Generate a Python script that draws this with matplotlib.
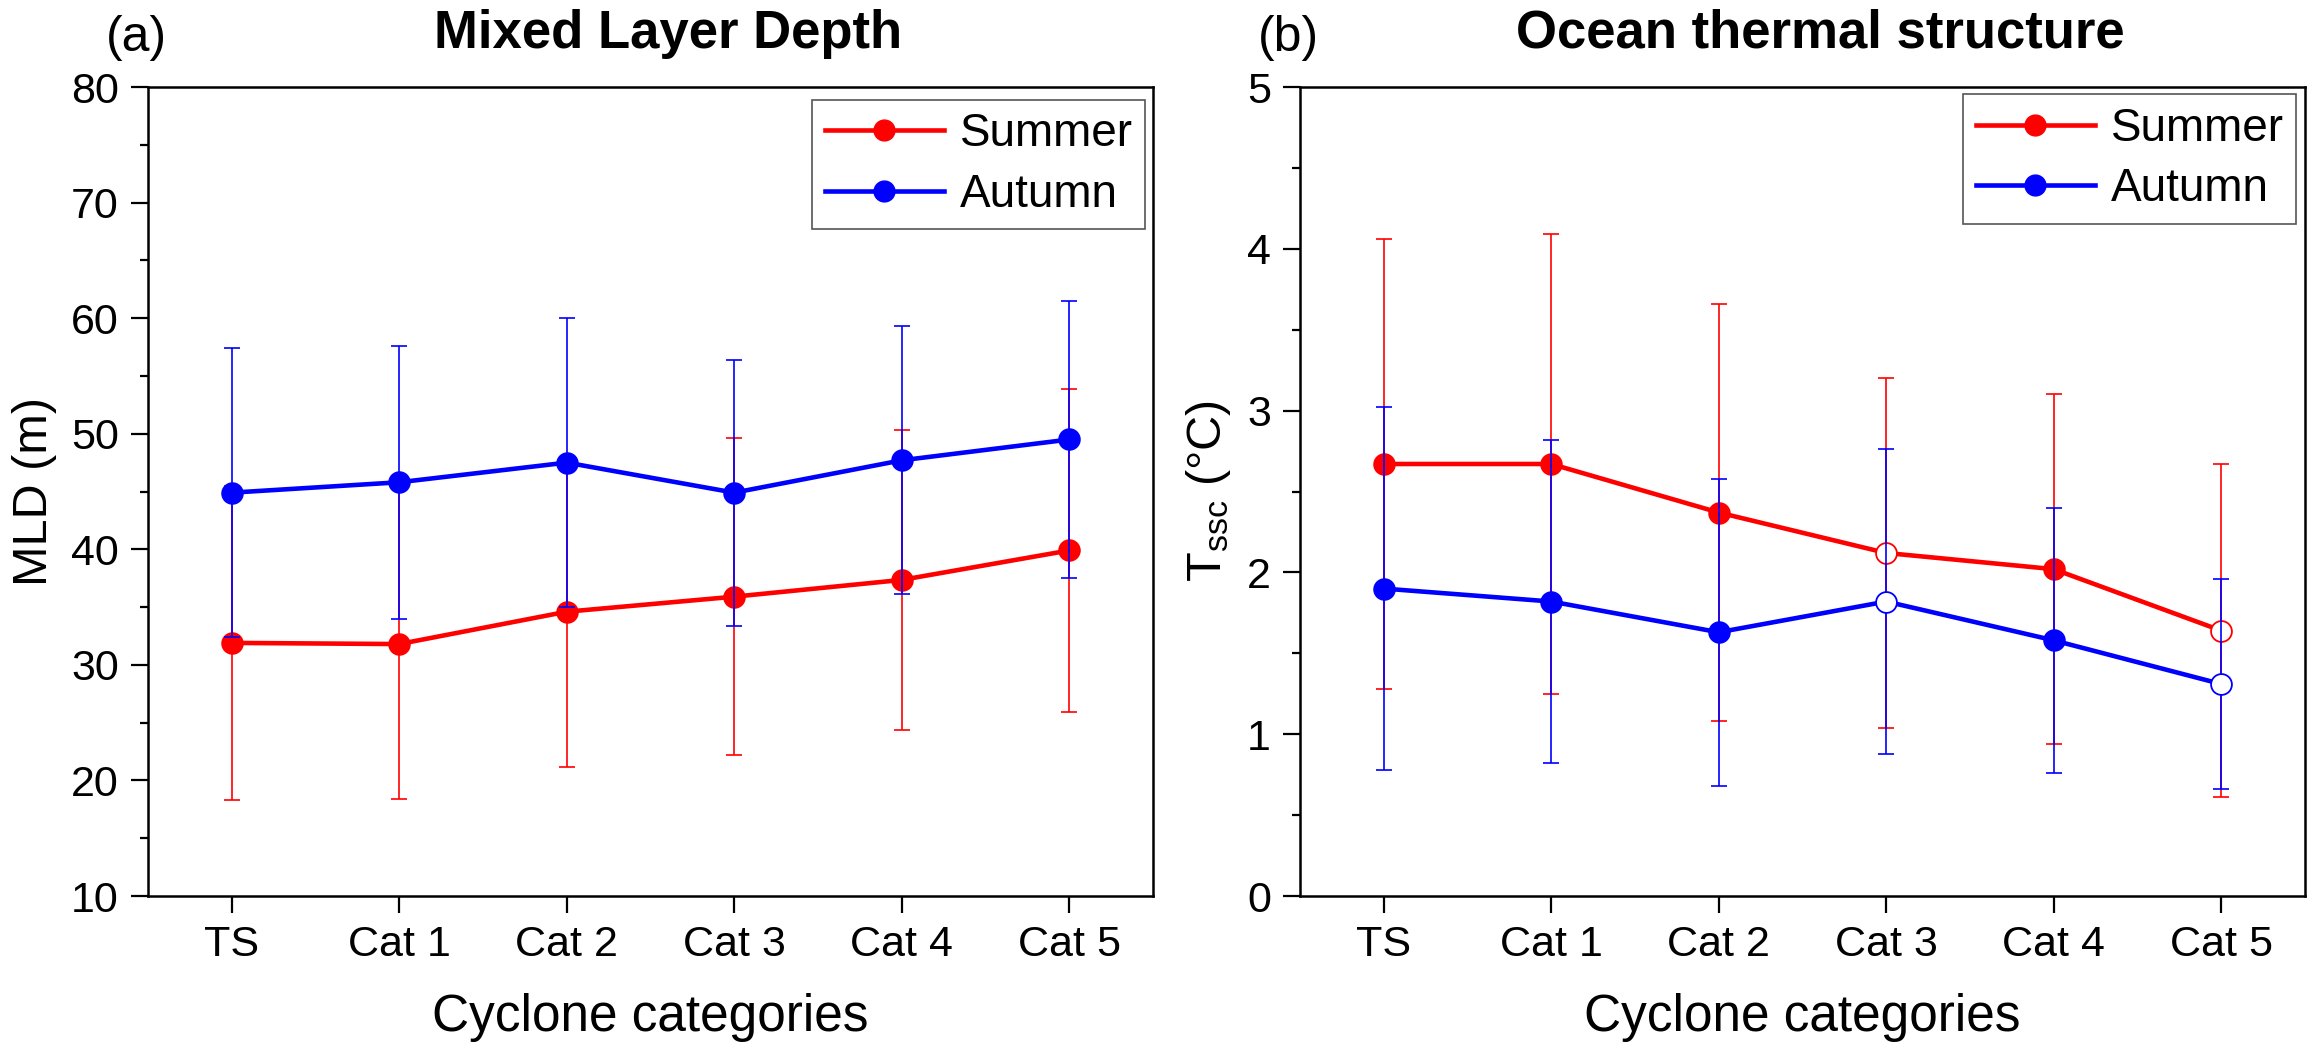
import matplotlib
matplotlib.use('Agg')
import matplotlib.pyplot as plt
from matplotlib.lines import Line2D
from matplotlib.ticker import MultipleLocator
import numpy as np

# ---------------- data ----------------
categories = ['TS', 'Cat 1', 'Cat 2', 'Cat 3', 'Cat 4', 'Cat 5']

mld_summer = [31.9, 31.8, 34.6, 35.9, 37.35, 39.9]
mld_summer_err = [13.6, 13.4, 13.4, 13.7, 13.0, 14.0]
mld_autumn = [44.9, 45.8, 47.5, 44.9, 47.7, 49.5]
mld_autumn_err = [12.5, 11.8, 12.5, 11.5, 11.6, 12.0]
mld_summer_open = [False, False, False, False, False, False]
mld_autumn_open = [False, False, False, False, False, False]

t_summer = [2.67, 2.67, 2.37, 2.12, 2.02, 1.64]
t_summer_err = [1.39, 1.42, 1.29, 1.08, 1.08, 1.03]
t_autumn = [1.90, 1.82, 1.63, 1.82, 1.58, 1.31]
t_autumn_err = [1.12, 1.00, 0.95, 0.94, 0.82, 0.65]
t_summer_open = [False, False, False, True, False, True]
t_autumn_open = [False, False, False, True, False, True]

series_labels = ['Summer', 'Autumn']
panel_titles = ['Mixed Layer Depth', 'Ocean thermal structure']
panel_letters = ['(a)', '(b)']
x_label = 'Cyclone categories'
y_labels = ['MLD (m)', r'T$_{\mathrm{ssc}}$ (°C)']

# ---------------- style ----------------
plt.rcParams['font.family'] = ['Liberation Sans', 'DejaVu Sans']
plt.rcParams['mathtext.fontset'] = 'custom'
plt.rcParams['mathtext.rm'] = 'Liberation Sans'
plt.rcParams['mathtext.it'] = 'Liberation Sans:italic'
plt.rcParams['mathtext.bf'] = 'Liberation Sans:bold'

RED = '#ff0000'
BLUE = '#0000ff'
W, H = 2315, 1047
fig = plt.figure(figsize=(W / 100, H / 100), dpi=100)

ax_top, ax_bot = 87, 896
axes_lr = [(148, 1153), (1300, 2305)]
legend_anchor = [(0.992, 0.984), (0.991, 0.991)]


def make_axes(x0, x1):
    return fig.add_axes([x0 / W, 1 - ax_bot / H, (x1 - x0) / W, (ax_bot - ax_top) / H])


def draw_series(ax, vals, errs, opens, color, z):
    x = np.arange(len(categories))
    vals = np.asarray(vals)
    opens = np.asarray(opens)
    ax.errorbar(x, vals, yerr=errs, fmt='none', ecolor=color, elinewidth=1.2,
                capsize=6, capthick=1.2, zorder=z)
    ax.plot(x, vals, '-', color=color, lw=3.3, zorder=z + 0.5, solid_capstyle='round')
    ax.plot(x[~opens], vals[~opens], 'o', ms=15, mfc=color, mec=color, mew=1.2,
            ls='none', zorder=z + 0.6)
    if opens.any():
        ax.plot(x[opens], vals[opens], 'o', ms=15, mfc='white', mec=color, mew=1.3,
                ls='none', zorder=z + 0.6)


panels = [
    (mld_summer, mld_summer_err, mld_summer_open, mld_autumn, mld_autumn_err, mld_autumn_open,
     (10, 80), 10, 5),
    (t_summer, t_summer_err, t_summer_open, t_autumn, t_autumn_err, t_autumn_open,
     (0, 5), 1, 0.5),
]

for i, (s, se, so, a, ae, ao, ylim, major, minor) in enumerate(panels):
    x0, x1 = axes_lr[i]
    ax = make_axes(x0, x1)
    draw_series(ax, s, se, so, RED, 2)
    draw_series(ax, a, ae, ao, BLUE, 4)

    ax.set_xlim(-0.5, len(categories) - 0.5)
    ax.set_ylim(*ylim)
    ax.set_xticks(np.arange(len(categories)))
    ax.set_xticklabels(categories)
    ax.yaxis.set_major_locator(MultipleLocator(major))
    ax.yaxis.set_minor_locator(MultipleLocator(minor))
    ax.tick_params(axis='both', which='major', direction='out', length=12, width=1.6,
                   labelsize=31, pad=9)
    ax.tick_params(axis='y', which='minor', direction='out', length=6, width=1.6)
    ax.tick_params(top=False, right=False)
    for sp in ax.spines.values():
        sp.set_linewidth(1.8)

    ax.set_xlabel(x_label, fontsize=37, labelpad=20)
    ax.set_ylabel(y_labels[i], fontsize=35, labelpad=10)

    handles = [Line2D([], [], color=RED, lw=3.3, marker='o', ms=15),
               Line2D([], [], color=BLUE, lw=3.3, marker='o', ms=15)]
    leg = ax.legend(handles, series_labels, loc='upper right',
                    bbox_to_anchor=legend_anchor[i], borderaxespad=0, fontsize=33,
                    frameon=True, fancybox=False, framealpha=1, edgecolor='#555555',
                    handlelength=2.6, handletextpad=0.34, labelspacing=0.36,
                    borderpad=0.27)
    leg.get_frame().set_linewidth(1.2)

    xc = (x0 + x1) / 2 + 18
    fig.text(xc / W, 1 - 48 / H, panel_titles[i], fontsize=38, fontweight='bold',
             ha='center', va='baseline')
    fig.text((x0 - 42) / W, 1 - 51 / H, panel_letters[i], fontsize=36,
             ha='left', va='baseline')

fig.savefig('out.png', dpi=100)
